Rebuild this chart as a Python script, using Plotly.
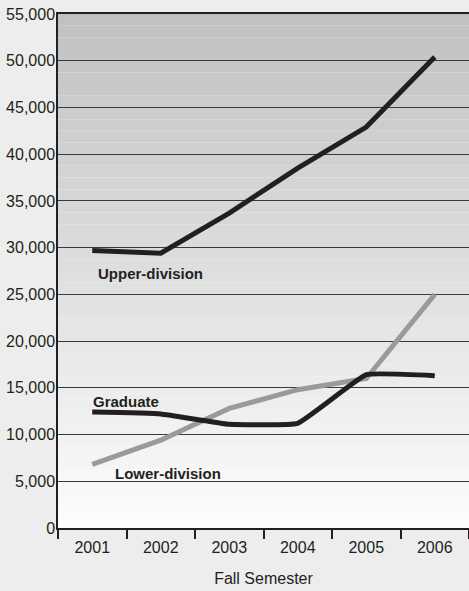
import plotly.graph_objects as go

years = ["2001", "2002", "2003", "2004", "2005", "2006"]
upper = [29700, 29400, 33700, 38500, 42900, 50400]
graduate = [12400, 12200, 11100, 11200, 16400, 16300]
lower = [6800, 9400, 12800, 14800, 16000, 25000]
yticks = list(range(0, 55001, 5000))

FONT = "Liberation Sans Narrow, Arial Narrow, sans-serif"

fig = go.Figure()

# gradient background bands
n = 44
top_c = (192, 193, 195)
bot_c = (252, 252, 252)
shapes = []
for i in range(n):
    f = i / (n - 1)
    c = tuple(round(bot_c[k] + (top_c[k] - bot_c[k]) * f) for k in range(3))
    shapes.append(dict(type="rect", xref="paper", yref="y", x0=0, x1=1,
                       y0=55000 * i / n, y1=55000 * (i + 1) / n,
                       fillcolor="rgb(%d,%d,%d)" % c, line=dict(width=0), layer="below"))

fig.add_trace(go.Scatter(x=years, y=lower, mode="lines",
                         line=dict(color="#9a9a9a", width=5),
                         hoverinfo="skip"))
fig.add_trace(go.Scatter(x=years, y=graduate, mode="lines",
                         line=dict(color="#231f20", width=5, shape="spline", smoothing=0.3),
                         hoverinfo="skip"))
fig.add_trace(go.Scatter(x=years, y=upper, mode="lines",
                         line=dict(color="#231f20", width=5),
                         hoverinfo="skip"))

labels = [("Upper-division", 0, 27200, 4), ("Graduate", 0, 13500, -1),
          ("Lower-division", 1, 5800, -48)]
for txt, x, y, xs in labels:
    fig.add_annotation(x=x, y=y, xref="x", yref="y", text="<b>%s</b>" % txt, showarrow=False,
                       xanchor="left", xshift=xs,
                       font=dict(family=FONT, size=15, color="#231f20"))

fig.update_layout(
    width=469, height=591,
    margin=dict(l=58, r=0, t=14, b=63),
    paper_bgcolor="#ededed", plot_bgcolor="#ffffff",
    showlegend=False, shapes=shapes,
    xaxis=dict(type="category", range=[-0.5, 5.5], tickson="boundaries", ticks="outside",
               ticklen=9, tickcolor="#231f20", tickwidth=1.5, showgrid=False,
               tickfont=dict(family=FONT, size=16, color="#231f20"), ticklabelstandoff=4,
               title=dict(text="Fall Semester", font=dict(family=FONT, size=16, color="#231f20"),
                          standoff=18),
               showline=True, mirror=True, linecolor="#231f20", linewidth=1.5, zeroline=False),
    yaxis=dict(range=[0, 55000], tickvals=yticks, tickformat=",d",
               tickfont=dict(family=FONT, size=16, color="#231f20"),
               showgrid=True, gridcolor="#3a3a3a", gridwidth=1,
               zeroline=True, zerolinecolor="#231f20", zerolinewidth=3,
               showline=True, linecolor="#231f20", linewidth=1.5, ticks="", ticklabelstandoff=-2,
               mirror=False),
)

fig.write_html("out.html", config={"displayModeBar": False},
               post_script="document.body.style.margin='0';document.documentElement.style.margin='0';document.body.style.overflow='hidden';")
